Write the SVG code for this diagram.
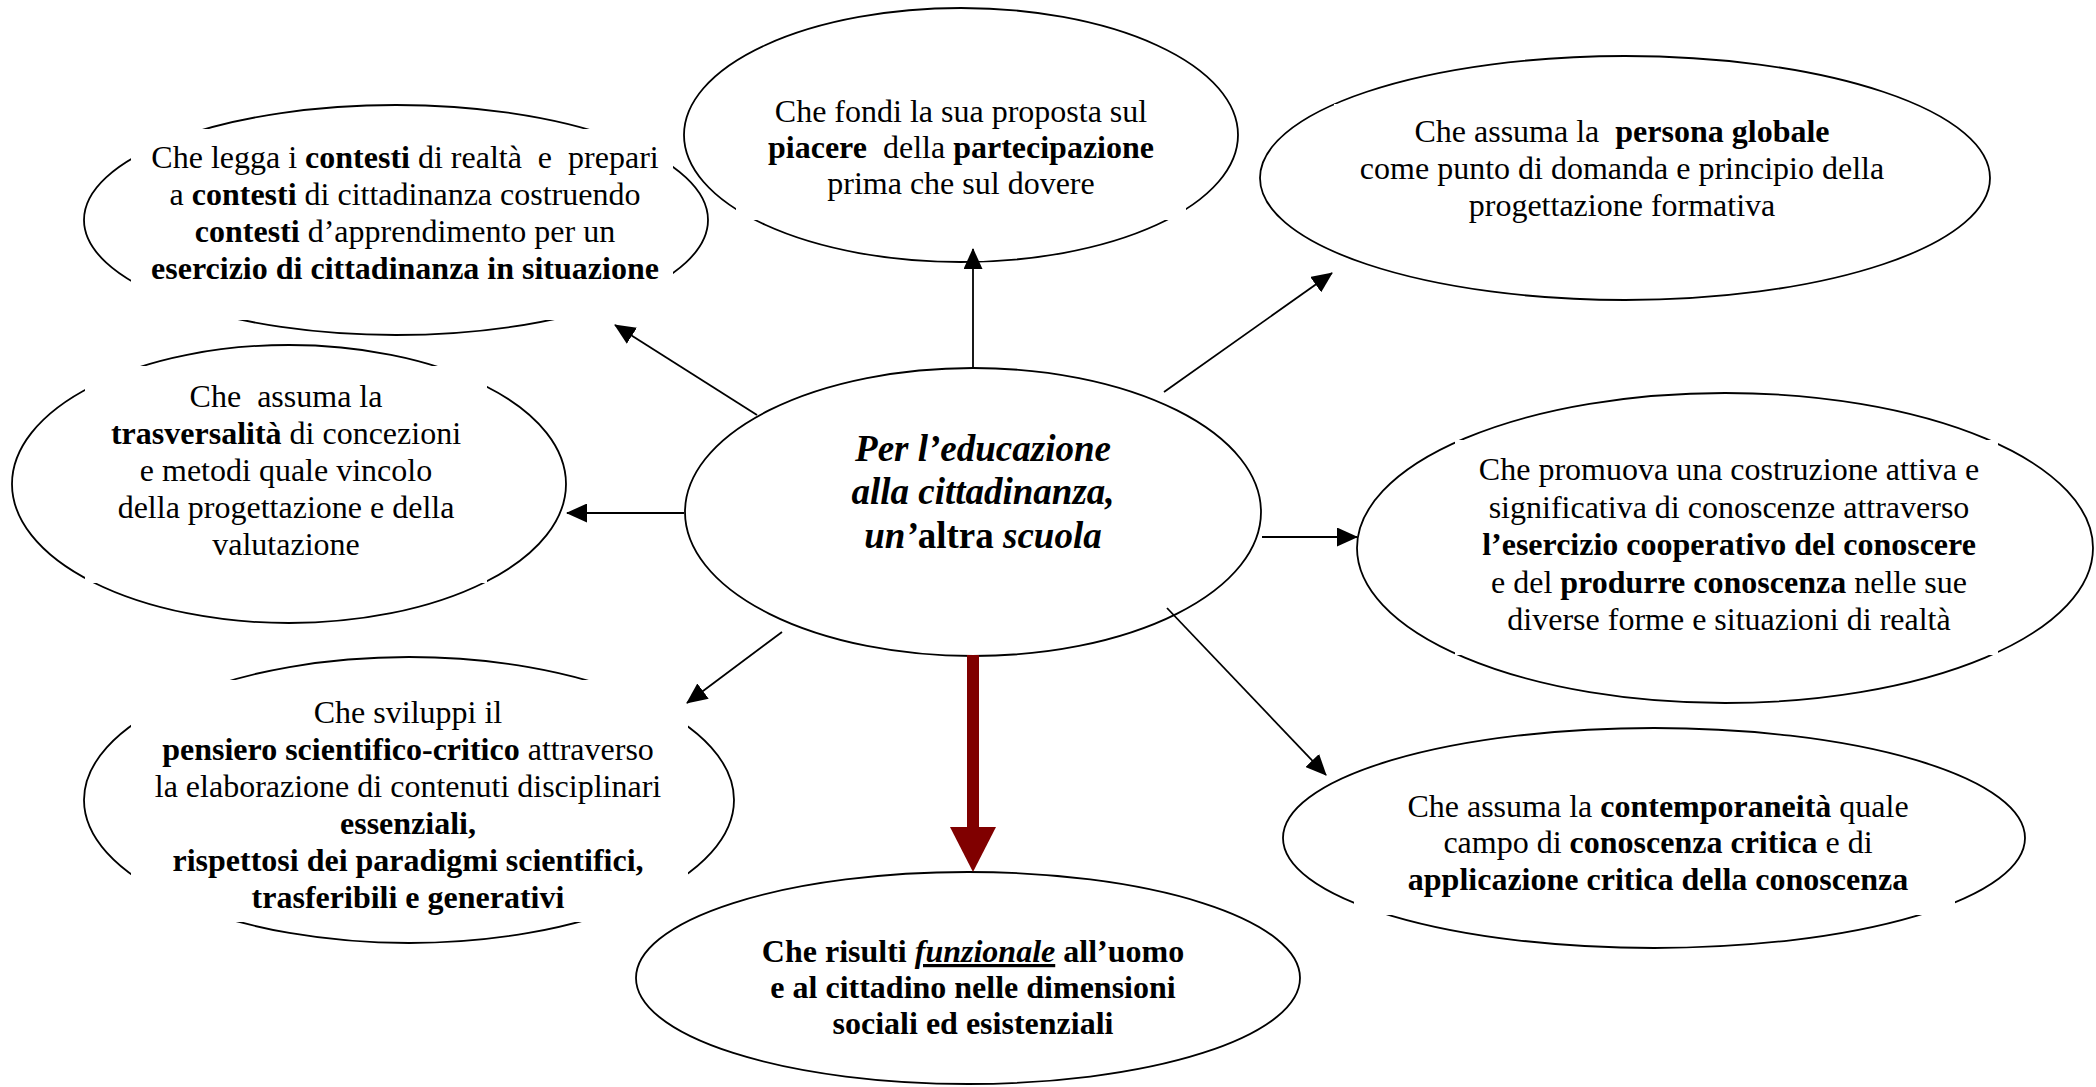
<svg xmlns="http://www.w3.org/2000/svg" width="2096" height="1087" viewBox="0 0 2096 1087">
<style>
text{font-family:"Liberation Serif","Times New Roman",serif;font-size:32px;fill:#000;text-anchor:middle}
.b{font-weight:bold}
.i{font-style:italic}
.c{font-size:37px;font-weight:bold;font-style:italic}
.u{text-decoration:underline}
.e{fill:none;stroke:#000;stroke-width:1.8}
.k{fill:none;stroke:#000;stroke-width:1.8;marker-end:url(#ah)}
.r{fill:none;stroke:#800000;stroke-width:12;marker-end:url(#rh)}
</style>
<defs>
<marker id="ah" markerUnits="userSpaceOnUse" markerWidth="21" markerHeight="19" viewBox="0 0 21 19" refX="20" refY="9.5" orient="auto"><path d="M0,0 L21,9.5 L0,19 z" fill="#000"/></marker>
<marker id="rh" markerUnits="userSpaceOnUse" markerWidth="45" markerHeight="46" viewBox="0 0 45 46" refX="0" refY="23" orient="auto"><path d="M0,0 L45,23 L0,46 z" fill="#800000"/></marker>
<mask id="mT" maskUnits="userSpaceOnUse" x="0" y="0" width="2096" height="1087"><rect width="2096" height="1087" fill="#fff"/><rect x="736" y="70" width="450" height="150" fill="#000"/></mask>
<mask id="mA" maskUnits="userSpaceOnUse" x="0" y="0" width="2096" height="1087"><rect width="2096" height="1087" fill="#fff"/><rect x="131" y="129" width="542" height="191" fill="#000"/></mask>
<mask id="mR1" maskUnits="userSpaceOnUse" x="0" y="0" width="2096" height="1087"><rect width="2096" height="1087" fill="#fff"/><rect x="1334" y="104" width="578" height="141" fill="#000"/></mask>
<mask id="mL2" maskUnits="userSpaceOnUse" x="0" y="0" width="2096" height="1087"><rect width="2096" height="1087" fill="#fff"/><rect x="85" y="366" width="402" height="217" fill="#000"/></mask>
<mask id="mR2" maskUnits="userSpaceOnUse" x="0" y="0" width="2096" height="1087"><rect width="2096" height="1087" fill="#fff"/><rect x="1455" y="440" width="543" height="215" fill="#000"/></mask>
<mask id="mL3" maskUnits="userSpaceOnUse" x="0" y="0" width="2096" height="1087"><rect width="2096" height="1087" fill="#fff"/><rect x="131" y="680" width="557" height="242" fill="#000"/></mask>
<mask id="mR3" maskUnits="userSpaceOnUse" x="0" y="0" width="2096" height="1087"><rect width="2096" height="1087" fill="#fff"/><rect x="1354" y="790" width="601" height="125" fill="#000"/></mask>
</defs>
<rect width="2096" height="1087" fill="#fff"/>

<g id="node-top">
<ellipse class="e" cx="961" cy="135" rx="277" ry="127" mask="url(#mT)"/>
<text xml:space="preserve"><tspan x="961" y="122">Che fondi la sua proposta sul</tspan><tspan x="961" y="158"><tspan class="b">piacere</tspan>  della <tspan class="b">partecipazione</tspan></tspan><tspan x="961" y="194">prima che sul dovere</tspan></text>
</g>

<g id="node-contesti">
<ellipse class="e" cx="396" cy="220" rx="312" ry="115" mask="url(#mA)"/>
<text xml:space="preserve"><tspan x="405" y="168">Che legga i <tspan class="b">contesti</tspan> di realtà  e  prepari</tspan><tspan x="405" y="205">a <tspan class="b">contesti</tspan> di cittadinanza costruendo</tspan><tspan x="405" y="242"><tspan class="b">contesti</tspan> d’apprendimento per un</tspan><tspan x="405" y="279" class="b">esercizio di cittadinanza in situazione</tspan></text>
</g>

<g id="node-persona">
<ellipse class="e" cx="1625" cy="178" rx="365" ry="122" mask="url(#mR1)"/>
<text xml:space="preserve"><tspan x="1622" y="142">Che assuma la  <tspan class="b">persona globale</tspan></tspan><tspan x="1622" y="179">come punto di domanda e principio della</tspan><tspan x="1622" y="216">progettazione formativa</tspan></text>
</g>

<g id="node-trasversalita">
<ellipse class="e" cx="289" cy="484" rx="277" ry="139" mask="url(#mL2)"/>
<text xml:space="preserve"><tspan x="286" y="407">Che  assuma la</tspan><tspan x="286" y="444"><tspan class="b">trasversalità</tspan> di concezioni</tspan><tspan x="286" y="481">e metodi quale vincolo</tspan><tspan x="286" y="518">della progettazione e della</tspan><tspan x="286" y="555">valutazione</tspan></text>
</g>

<g id="node-center">
<ellipse class="e" cx="973" cy="512" rx="288" ry="144"/>
<text class="c" xml:space="preserve"><tspan x="983" y="461">Per l’educazione</tspan><tspan x="983" y="504">alla cittadinanza,</tspan><tspan x="983" y="548">un’<tspan style="font-style:normal">altra</tspan> scuola</tspan></text>
</g>

<g id="node-conoscere">
<ellipse class="e" cx="1725" cy="548" rx="368" ry="155" mask="url(#mR2)"/>
<text xml:space="preserve"><tspan x="1729" y="480">Che promuova una costruzione attiva e</tspan><tspan x="1729" y="518">significativa di conoscenze attraverso</tspan><tspan x="1729" y="555" class="b">l’esercizio cooperativo del conoscere</tspan><tspan x="1729" y="593">e del <tspan class="b">produrre conoscenza</tspan> nelle sue</tspan><tspan x="1729" y="630">diverse forme e situazioni di realtà</tspan></text>
</g>

<g id="node-pensiero">
<ellipse class="e" cx="409" cy="800" rx="325" ry="143" mask="url(#mL3)"/>
<text xml:space="preserve"><tspan x="408" y="723">Che sviluppi il</tspan><tspan x="408" y="760"><tspan class="b">pensiero scientifico-critico</tspan> attraverso</tspan><tspan x="408" y="797">la elaborazione di contenuti disciplinari</tspan><tspan x="408" y="834" class="b">essenziali,</tspan><tspan x="408" y="871" class="b">rispettosi dei paradigmi scientifici,</tspan><tspan x="408" y="908" class="b">trasferibili e generativi</tspan></text>
</g>

<g id="node-contemporaneita">
<ellipse class="e" cx="1654" cy="838" rx="371" ry="110" mask="url(#mR3)"/>
<text xml:space="preserve"><tspan x="1658" y="817">Che assuma la <tspan class="b">contemporaneità</tspan> quale</tspan><tspan x="1658" y="853">campo di <tspan class="b">conoscenza critica</tspan> e di</tspan><tspan x="1658" y="890" class="b">applicazione critica della conoscenza</tspan></text>
</g>

<g id="node-funzionale">
<ellipse class="e" cx="968" cy="978" rx="332" ry="106"/>
<text class="b" xml:space="preserve"><tspan x="973" y="962">Che risulti <tspan class="i u">funzionale</tspan> all’uomo</tspan><tspan x="973" y="998">e al cittadino nelle dimensioni</tspan><tspan x="973" y="1034">sociali ed esistenziali</tspan></text>
</g>

<g id="connectors">
<line class="k" x1="973" y1="368" x2="973" y2="249"/>
<line class="k" x1="757" y1="415" x2="615" y2="325"/>
<line class="k" x1="684" y1="513" x2="567" y2="513"/>
<line class="k" x1="1262" y1="537" x2="1357" y2="537"/>
<line class="k" x1="1164" y1="392" x2="1332" y2="273"/>
<line class="k" x1="782" y1="632" x2="687" y2="703"/>
<line class="k" x1="1167" y1="608" x2="1326" y2="775"/>
<line class="r" x1="973" y1="655" x2="973" y2="827"/>
</g>
</svg>
